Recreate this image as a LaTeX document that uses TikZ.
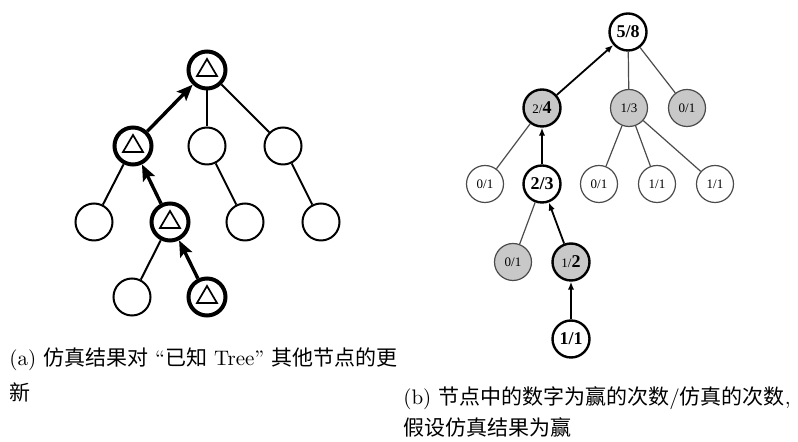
\documentclass[tikz,border=0pt]{standalone}
\usepackage{fontspec}
\newfontfamily\cjk{Noto Sans CJK SC}
\newfontfamily\tnr{Liberation Serif}
\usetikzlibrary{arrows.meta, positioning}
\definecolor{shade}{RGB}{200,200,200}
\definecolor{edgegray}{RGB}{75,75,75}
\newcommand{\smallnum}[1]{{\fontsize{6.5}{7}\selectfont #1}}
\newcommand{\bignum}[1]{{\bfseries\fontsize{9}{10}\selectfont #1}}

\begin{document}
\begin{tikzpicture}[x=0.5pt, y=-0.5pt,
    plainnode/.style={circle, draw, line width=1pt, minimum size=18.5pt, inner sep=0pt},
    hitnode/.style={plainnode, line width=2pt,
        path picture={\draw[line width=0.85pt] (path picture bounding box.center) ++(-5pt,-3pt) -- ++(10pt,0pt) -- ++(-5pt,8.5pt) -- cycle;}},
    twig/.style={line width=1pt},
    back/.style={-{Stealth[length=8pt, width=6.5pt, inset=1.5pt]}, line width=1.7pt},
    leafnode/.style={circle, draw=edgegray, line width=0.6pt, minimum size=18.5pt, inner sep=0pt, font=\tnr\fontsize{6.5}{7}\selectfont},
    grayleaf/.style={leafnode, fill=shade},
    pathnode/.style={circle, draw, line width=1.2pt, minimum size=18.5pt, inner sep=0pt, font=\tnr},
    graypath/.style={pathnode, fill=shade},
    thinedge/.style={draw=edgegray, line width=0.6pt},
    uparrow/.style={-{Latex[length=4pt, width=3.2pt]}, line width=0.9pt},
    caption/.style={anchor=west, align=left, inner sep=0pt}
]
    \useasboundingbox (0,0) rectangle (798,442);

    % Tree (a)
    \node[hitnode] (rA) at (207,70) {};
    \node[hitnode] (a1) at (133,146) {};
    \node[plainnode] (a2) at (207,146) {};
    \node[plainnode] (a3) at (283,146) {};
    \node[plainnode] (b1) at (94,222) {};
    \node[hitnode] (b2) at (170,222) {};
    \node[plainnode] (b3) at (245,222) {};
    \node[plainnode] (b4) at (321,222) {};
    \node[plainnode] (c1) at (132,297) {};
    \node[hitnode] (c2) at (207,297) {};

    \draw[twig] (rA) -- (a2);
    \draw[twig] (rA) -- (a3);
    \draw[twig] (a1) -- (b1);
    \draw[twig] (a2) -- (b3);
    \draw[twig] (a3) -- (b4);
    \draw[twig] (b2) -- (c1);

    % Backup (a)
    \draw[back] (a1) -- (rA);
    \draw[back] (b2) -- (a1);
    \draw[back] (c2) -- (b2);

    % Tree (b)
    \node[pathnode] (r) at (628,32) {\bignum{5/8}};
    \node[graypath] (s1) at (542,108) {\smallnum{2/}\bignum{4}};
    \node[grayleaf] (s2) at (629,108) {1/3};
    \node[grayleaf] (s3) at (687,108) {0/1};
    \node[leafnode] (t1) at (485,184) {0/1};
    \node[pathnode] (t2) at (542,184) {\bignum{2/3}};
    \node[leafnode] (t3) at (599,184) {0/1};
    \node[leafnode] (t4) at (657,184) {1/1};
    \node[leafnode] (t5) at (715,184) {1/1};
    \node[grayleaf] (u1) at (513,262) {0/1};
    \node[graypath] (u2) at (571,262) {\smallnum{1/}\bignum{2}};
    \node[pathnode] (v1) at (571,339) {\bignum{1/1}};

    \draw[thinedge] (r) -- (s2);
    \draw[thinedge] (r) -- (s3);
    \draw[thinedge] (s1) -- (t1);
    \draw[thinedge] (s2) -- (t3);
    \draw[thinedge] (s2) -- (t4);
    \draw[thinedge] (s2) -- (t5);
    \draw[thinedge] (t2) -- (u1);

    % Backup (b)
    \draw[uparrow] (s1) -- (r);
    \draw[uparrow] (t2) -- (s1);
    \draw[uparrow] (u2) -- (t2);
    \draw[uparrow] (v1) -- (u2);

    % Captions
    \node[caption, font=\fontsize{10.5}{17.5}\selectfont] (capA) at (9,375)
        {(a) {\cjk 仿真结果对} “{\cjk 已知} Tree” {\cjk 其他节点的更}\\{\cjk 新}};
    \node[caption, font=\fontsize{10.5}{15.5}\selectfont] (capB) at (403,412)
        {(b) {\cjk 节点中的数字为赢的次数}/{\cjk 仿真的次数},\\{\cjk 假设仿真结果为赢}};
\end{tikzpicture}
\end{document}
